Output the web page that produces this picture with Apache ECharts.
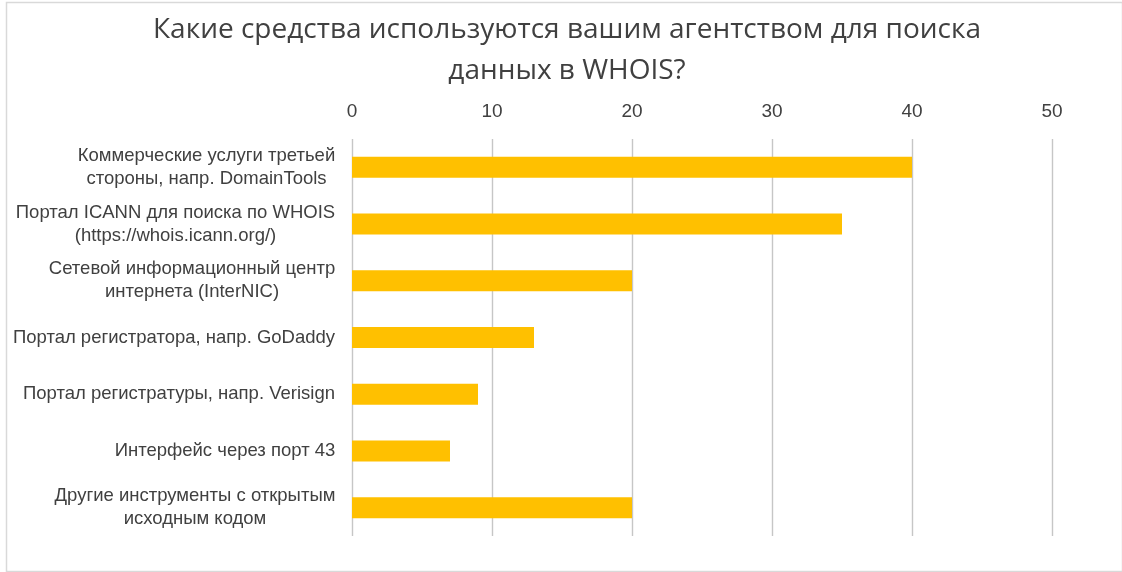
<!DOCTYPE html>
<html><head><meta charset="utf-8">
<script src="https://cdn.jsdelivr.net/npm/echarts@6/dist/echarts.min.js"></script>
<style>html,body{margin:0;padding:0;background:#fff}#c{width:1122px;height:572px}</style>
</head><body><div id="c"></div>
<script>
const titleText = 'Какие средства используются вашим агентством для поиска\nданных в WHOIS?';
const categories = [
  'Коммерческие услуги третьей\nстороны, напр. DomainTools',
  'Портал ICANN для поиска по WHOIS\n(https://whois.icann.org/)',
  'Сетевой информационный центр\nинтернета (InterNIC)',
  'Портал регистратора, напр. GoDaddy',
  'Портал регистратуры, напр. Verisign',
  'Интерфейс через порт 43',
  'Другие инструменты с открытым\nисходным кодом'
];
const values = [40, 35, 20, 13, 9, 7, 20];
const xTicks = {min: 0, max: 50, interval: 10};

const labelFont = '18.5px "Liberation Sans"';
const ctx = document.createElement('canvas').getContext('2d');
ctx.font = labelFont;
const rich = {};
const labelKey = {};
categories.forEach((c, i) => {
  const w = Math.max(...c.split('\n').map(s => ctx.measureText(s).width));
  rich['w' + i] = {width: Math.ceil(w) + 1, align: 'center', fontFamily: 'Liberation Sans', fontSize: 18.5, color: '#404040', lineHeight: 23};
  labelKey[c] = 'w' + i;
});

const chart = echarts.init(document.getElementById('c'), null, {renderer: 'canvas'});
chart.setOption({
  animation: false,
  backgroundColor: '#fff',
  graphic: [{
    type: 'rect', left: 4, top: 0, silent: true,
    shape: {width: 1116, height: 569},
    style: {fill: 'none', stroke: '#d9d9d9', lineWidth: 1.5}
  }],
  title: {
    text: titleText, left: 562, textAlign: 'center', top: 5,
    textStyle: {fontFamily: 'Open Sans', fontWeight: 'normal', fontSize: 28, color: '#404040', lineHeight: 41}
  },
  grid: {left: 352, right: 70, top: 139, bottom: 36, containLabel: false},
  xAxis: {
    type: 'value', position: 'top', min: xTicks.min, max: xTicks.max, interval: xTicks.interval,
    axisLine: {show: false}, axisTick: {show: false},
    axisLabel: {fontFamily: 'Liberation Sans', fontSize: 19, color: '#404040', margin: 18},
    splitLine: {show: true, lineStyle: {color: '#c6c6c6', width: 1.4}}
  },
  yAxis: {
    type: 'category', data: categories, inverse: true,
    axisLine: {show: false}, axisTick: {show: false},
    axisLabel: {
      fontFamily: 'Liberation Sans', fontSize: 18.5, color: '#404040', margin: 16, lineHeight: 23, align: 'right',
      formatter: v => v.split('\n').map(s => '{' + labelKey[v] + '|' + s + '}').join('\n'),
      rich: rich
    }
  },
  series: [{
    type: 'bar', data: values, barWidth: 21,
    itemStyle: {color: '#FFC000'}
  }]
});
</script></body></html>
